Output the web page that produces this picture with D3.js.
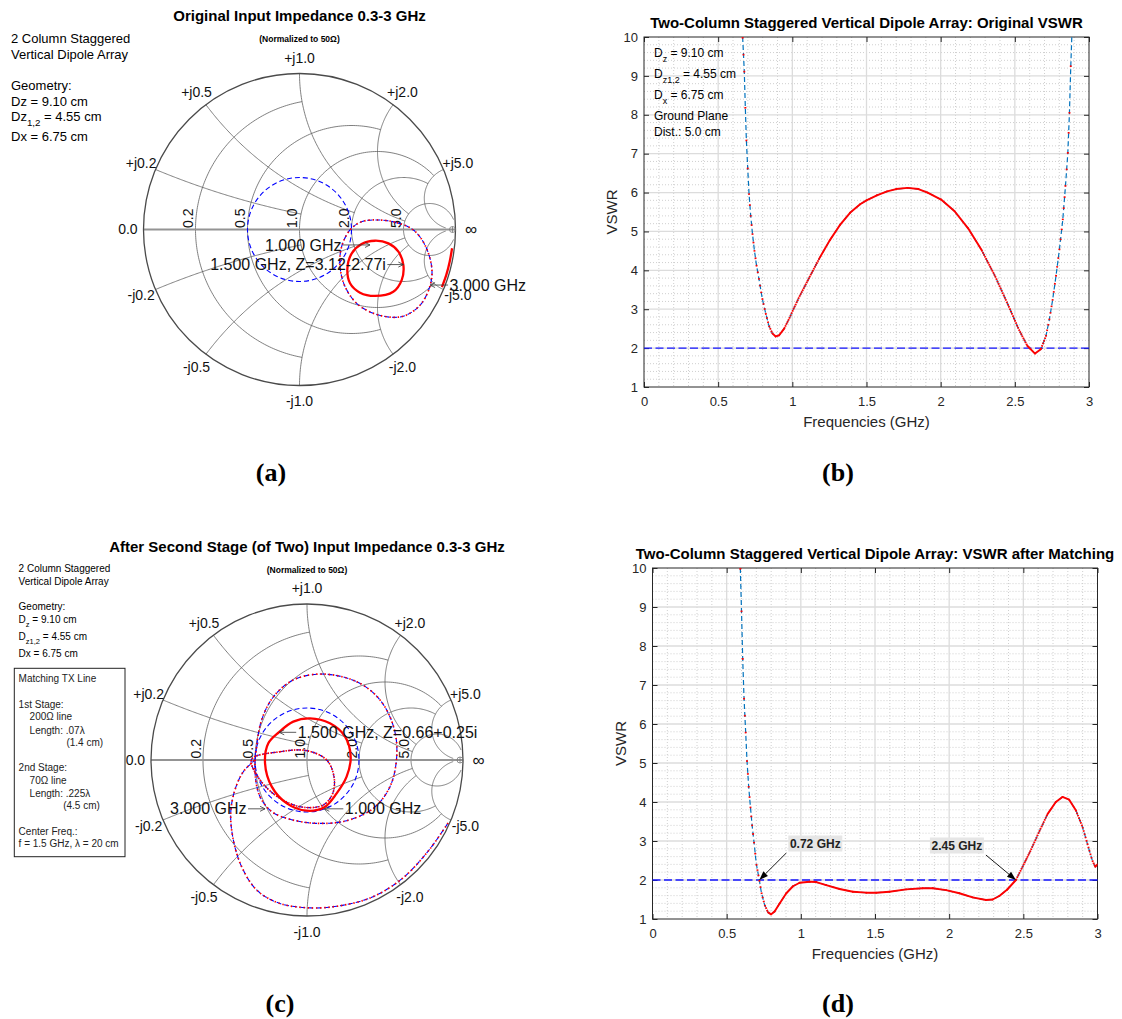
<!DOCTYPE html>
<html>
<head>
<script src="https://d3js.org/d3.v7.min.js"></script>
<style>
  body { margin: 0; background: #fff; }
  text { font-family: "Liberation Sans", Arial, Helvetica, sans-serif; }
  text.serif { font-family: "Liberation Serif", "Times New Roman", serif; }
</style>
</head>
<body>
<svg id="fig" width="1122" height="1019"></svg>
<script>
// ---------------- VSWR curves ----------------
const freqTicks = [0, 0.5, 1, 1.5, 2, 2.5, 3];
const vswrTicks = [1, 2, 3, 4, 5, 6, 7, 8, 9, 10];
const vswrLimit = 2;

const freqOrig = [0.665, 0.676, 0.683, 0.690, 0.699, 0.708, 0.719, 0.731, 0.744, 0.758,
  0.774, 0.797, 0.820, 0.842, 0.865, 0.888, 0.911, 0.945, 0.979, 1.000,
  1.047, 1.115, 1.184, 1.252, 1.320, 1.389, 1.457, 1.500, 1.570, 1.639,
  1.700, 1.776, 1.850, 1.912, 2.003, 2.094, 2.185, 2.276, 2.367, 2.458,
  2.527, 2.584, 2.636, 2.675, 2.709, 2.732, 2.754, 2.777, 2.800, 2.823,
  2.841, 2.857, 2.868, 2.877, 2.884];
const vswrOrig = [10.0, 9.13, 8.20, 7.36, 6.64, 5.98, 5.42, 4.95, 4.52, 4.14,
  3.80, 3.28, 2.90, 2.58, 2.38, 2.30, 2.33, 2.50, 2.76, 2.94,
  3.32, 3.82, 4.32, 4.77, 5.16, 5.48, 5.70, 5.80, 5.93, 6.03,
  6.09, 6.12, 6.09, 6.00, 5.82, 5.52, 5.08, 4.52, 3.85, 3.08,
  2.48, 2.06, 1.86, 1.97, 2.30, 2.72, 3.22, 3.84, 4.52, 5.29,
  6.15, 7.00, 8.03, 9.23, 10.0];

const freqMatched = [0.592, 0.600, 0.608, 0.617, 0.628, 0.637, 0.648, 0.660, 0.671, 0.684,
  0.700, 0.720, 0.734, 0.756, 0.779, 0.800, 0.823, 0.857, 0.902, 0.947,
  0.992, 1.059, 1.104, 1.171, 1.261, 1.351, 1.440, 1.508, 1.597, 1.710,
  1.822, 1.889, 1.979, 2.069, 2.158, 2.248, 2.293, 2.338, 2.390, 2.450,
  2.500, 2.551, 2.607, 2.663, 2.719, 2.764, 2.809, 2.854, 2.899, 2.944,
  2.965, 2.985, 3.000];
const vswrMatched = [10.0, 8.91, 7.69, 6.67, 5.80, 5.07, 4.41, 3.88, 3.42, 2.98,
  2.41, 2.00, 1.68, 1.36, 1.17, 1.12, 1.19, 1.40, 1.66, 1.84,
  1.93, 1.955, 1.947, 1.87, 1.77, 1.70, 1.675, 1.674, 1.70, 1.76,
  1.79, 1.79, 1.74, 1.66, 1.555, 1.486, 1.50, 1.59, 1.75, 2.00,
  2.38, 2.77, 3.24, 3.69, 4.00, 4.13, 4.06, 3.79, 3.36, 2.77,
  2.50, 2.34, 2.40];
const crossFreqs = [0.72, 2.45];

// ---------------- Smith chart grid ----------------
const gridRes = [0.2, 0.5, 1, 2, 5];
const gridResMaxX = [1, 2, 5, 5, 30];
const gridReact = [0.2, 0.5, 1, 2, 5];
const gridReactMaxR = [1, 2, 5, 5, 30];

// ---------------- impedance loci (reflection coefficient re, im) ----------------
const origLoop = [[0.505, 0.061], [0.623, 0.044], [0.730, -0.003], [0.804, -0.099], [0.847, -0.238],
  [0.841, -0.345], [0.783, -0.473], [0.687, -0.548], [0.601, -0.563], [0.473, -0.537],
  [0.366, -0.473], [0.292, -0.366], [0.260, -0.238], [0.270, -0.110], [0.324, -0.003], [0.398, 0.050]];
const origCircle = [[0.484, -0.072], [0.570, -0.089], [0.634, -0.142], [0.666, -0.228], [0.655, -0.324],
  [0.601, -0.399], [0.484, -0.426], [0.388, -0.405], [0.324, -0.345], [0.307, -0.249],
  [0.335, -0.153], [0.398, -0.093]];
const origEdge = [[0.978, -0.120], [0.963, -0.205], [0.942, -0.288], [0.913, -0.369]];
const origNotes = [
  { f: 1.0, g: [0.452, -0.099] },
  { f: 1.5, z: [3.12, -2.77] },
  { f: 3.0, g: [0.837, -0.356] }
];

const matchedLow = [[0.904, -0.404], [0.780, -0.580], [0.613, -0.758], [0.415, -0.880], [0.207, -0.935],
  [0.019, -0.948], [-0.182, -0.917], [-0.323, -0.833], [-0.419, -0.684], [-0.472, -0.513],
  [-0.489, -0.342], [-0.462, -0.192], [-0.408, -0.075], [-0.333, 0.0]];
const matchedInner = [[-0.355, 0.004], [-0.173, 0.053], [-0.002, 0.060], [0.126, 0.0], [0.173, -0.107],
  [0.165, -0.214], [0.105, -0.288], [-0.024, -0.303], [-0.173, -0.246], [-0.301, -0.128]];
const matchedCircle = [[0.019, 0.267], [0.147, 0.235], [0.244, 0.150], [0.280, 0.021], [0.254, -0.107],
  [0.190, -0.214], [0.111, -0.303], [-0.002, -0.325], [-0.130, -0.278], [-0.226, -0.171],
  [-0.269, -0.021], [-0.248, 0.107], [-0.179, 0.179], [-0.088, 0.246]];
const matchedHigh = [[0.094, 0.551], [0.318, 0.502], [0.468, 0.385], [0.558, 0.203], [0.575, 0.021],
  [0.532, -0.171], [0.425, -0.310], [0.254, -0.389], [0.062, -0.406], [-0.109, -0.380],
  [-0.226, -0.331], [-0.301, -0.235], [-0.333, -0.085], [-0.323, 0.085], [-0.291, 0.256],
  [-0.216, 0.404], [-0.088, 0.513]];
const matchedNotes = [
  { f: 1.5, z: [0.66, 0.25] },
  { f: 3.0, g: [-0.269, -0.313] },
  { f: 1.0, g: [0.111, -0.313] }
];

const svg = d3.select('#fig');
const sampleStep = 2.7 / 400;   // frequency step of the sweep, GHz
const dotLen = 1.6;

// z = r + jx  ->  reflection coefficient
function gamma(z) {
  const r = z[0], x = z[1];
  const d = (r + 1) * (r + 1) + x * x;
  return [(r * r + x * x - 1) / d, 2 * x / d];
}

function label(g, x, y, str, size, extra) {
  const t = g.append('text').attr('x', x).attr('y', y).attr('font-size', size).text(str);
  if (extra) Object.entries(extra).forEach(([k, v]) => t.attr(k, v));
  return t;
}

// text with subscripts: parts = [[string, isSub], ...]
function subLabel(g, x, y, parts, size) {
  const t = g.append('text').attr('x', x).attr('y', y).attr('font-size', size);
  let down = false;
  parts.forEach(([s, sub]) => {
    const ts = t.append('tspan').text(s);
    if (sub) ts.attr('font-size', size * 0.75);
    if (sub && !down) { ts.attr('dy', size * 0.38); down = true; }
    if (!sub && down) { ts.attr('dy', -size * 0.38); down = false; }
  });
  return t;
}

// ---------------- VSWR panel ----------------
function vswrPanel(o) {
  const x = d3.scaleLinear().domain([0, 3]).range([o.left, o.right]);
  const y = d3.scaleLinear().domain([1, 10]).range([o.bottom, o.top]);
  const g = svg.append('g');

  const onStep = (v, s) => Math.abs(v / s - Math.round(v / s)) < 1e-6;
  const minorX = d3.range(1, 30).map(k => k / 10).filter(v => !onStep(v, 0.5));
  const minorY = d3.range(6, 50).map(k => k / 5).filter(v => !onStep(v, 1));

  const grid = g.append('g').attr('fill', 'none');
  grid.selectAll('line.mx').data(minorX).join('line').attr('class', 'mx')
    .attr('x1', d => x(d)).attr('x2', d => x(d)).attr('y1', o.top).attr('y2', o.bottom);
  grid.selectAll('line.my').data(minorY).join('line').attr('class', 'my')
    .attr('y1', d => y(d)).attr('y2', d => y(d)).attr('x1', o.left).attr('x2', o.right);
  grid.selectAll('line.mx, line.my')
    .attr('stroke', '#c4c4c4').attr('stroke-width', 0.8).attr('stroke-dasharray', '1,2');
  grid.selectAll('line.gx').data(freqTicks.slice(1, -1)).join('line').attr('class', 'gx')
    .attr('x1', d => x(d)).attr('x2', d => x(d)).attr('y1', o.top).attr('y2', o.bottom);
  grid.selectAll('line.gy').data(vswrTicks.slice(1, -1)).join('line').attr('class', 'gy')
    .attr('y1', d => y(d)).attr('y2', d => y(d)).attr('x1', o.left).attr('x2', o.right);
  grid.selectAll('line.gx, line.gy').attr('stroke', '#dcdcdc').attr('stroke-width', 1.3);

  const fmt = d3.format('~g');
  const axes = [
    [d3.axisBottom(x).tickFormat(fmt).tickPadding(10), `translate(0,${o.bottom})`],
    [d3.axisTop(x).tickFormat(''), `translate(0,${o.top})`],
    [d3.axisLeft(y).tickFormat(fmt).tickPadding(6), `translate(${o.left},0)`],
    [d3.axisRight(y).tickFormat(''), `translate(${o.right},0)`]
  ];
  axes.forEach(([ax, tr], i) => {
    ax.tickValues(i < 2 ? freqTicks : vswrTicks).tickSizeInner(-5).tickSizeOuter(0);
    const a = g.append('g').attr('transform', tr).call(ax);
    a.select('.domain').remove();
    a.selectAll('line').attr('stroke', '#262626').attr('stroke-width', 1);
    a.selectAll('text').attr('font-size', 13).attr('fill', '#262626');
  });
  g.append('rect').attr('x', o.left).attr('y', o.top)
    .attr('width', o.right - o.left).attr('height', o.bottom - o.top)
    .attr('fill', 'none').attr('stroke', '#262626').attr('stroke-width', 1);

  // limit line
  g.append('line').attr('x1', x(0)).attr('x2', x(3)).attr('y1', y(vswrLimit)).attr('y2', y(vswrLimit))
    .attr('stroke', '#1414ff').attr('stroke-width', 1.3).attr('stroke-dasharray', '8,3.5');

  // curve: dashed trace plus red sample points
  svg.append('clipPath').attr('id', o.id).append('rect')
    .attr('x', o.left).attr('y', o.top - 1).attr('width', o.right - o.left).attr('height', o.bottom - o.top + 1);
  const cg = g.append('g').attr('clip-path', `url(#${o.id})`);
  const px = o.freqs.map(f => x(f)), py = o.vals.map(v => y(v));
  cg.append('path').attr('d', d3.line()(px.map((v, i) => [v, py[i]])))
    .attr('fill', 'none').attr('stroke', '#0072bd').attr('stroke-width', 1.2).attr('stroke-dasharray', '5,3');
  for (let i = 0; i < px.length - 1; i++) {
    const L = Math.hypot(px[i + 1] - px[i], py[i + 1] - py[i]);
    const n = Math.max(1, Math.round((o.freqs[i + 1] - o.freqs[i]) / sampleStep));
    const gap = L / n - dotLen;
    const seg = cg.append('line').attr('x1', px[i]).attr('y1', py[i]).attr('x2', px[i + 1]).attr('y2', py[i + 1])
      .attr('stroke', '#ff0000').attr('stroke-width', 1.9);
    if (gap > 0.5) seg.attr('stroke-dasharray', `${dotLen},${gap.toFixed(2)}`);
    else seg.attr('stroke-linecap', 'round');
  }

  // titles
  label(g, (o.left + o.right) / 2, o.top - 9, o.title, 15, { 'font-weight': 'bold', 'text-anchor': 'middle' });
  label(g, (o.left + o.right) / 2, o.bottom + 40, 'Frequencies (GHz)', 15, { 'text-anchor': 'middle', fill: '#262626' });
  label(g, 0, 0, 'VSWR', 15, {
    'text-anchor': 'middle', fill: '#262626',
    transform: `translate(${o.left - 27},${(o.top + o.bottom) / 2}) rotate(-90)`
  });
  return { g, x, y };
}

// ---------------- Smith chart panel ----------------
function smithPanel(o) {
  const sx = d3.scaleLinear().domain([-1, 1]).range([o.cx - o.R, o.cx + o.R]);
  const sy = d3.scaleLinear().domain([-1, 1]).range([o.cy + o.R, o.cy - o.R]);
  const lin = d3.line().x(d => sx(d[0])).y(d => sy(d[1]));
  const loopLine = d3.line().x(d => sx(d[0])).y(d => sy(d[1])).curve(d3.curveCatmullRomClosed.alpha(0.5));
  const openLine = d3.line().x(d => sx(d[0])).y(d => sy(d[1])).curve(d3.curveCatmullRom.alpha(0.5));
  const g = svg.append('g');
  const gridG = g.append('g').attr('fill', 'none').attr('stroke', '#5f5f5f').attr('stroke-width', 0.8);

  // constant resistance circles, cut at |x| = limit
  gridRes.forEach((r, i) => {
    const c = r / (1 + r), rho = 1 / (1 + r);
    const e = gamma([r, gridResMaxX[i]]);
    const a0 = Math.atan2(e[1], e[0] - c);
    const pts = d3.range(0, 181).map(k => {
      const a = a0 + (2 * Math.PI - 2 * a0) * k / 180;
      return [c + rho * Math.cos(a), rho * Math.sin(a)];
    });
    gridG.append('path').attr('d', lin(pts));
  });
  // constant reactance arcs, cut at r = limit
  gridReact.forEach((xv, i) => {
    [1, -1].forEach(s => {
      const yc = s / xv, rho = 1 / xv;
      const p0 = gamma([0, s * xv]), p1 = gamma([gridReactMaxR[i], s * xv]);
      const a0 = Math.atan2(p0[1] - yc, p0[0] - 1);
      let da = Math.atan2(p1[1] - yc, p1[0] - 1) - a0;
      if (da > Math.PI) da -= 2 * Math.PI;
      if (da < -Math.PI) da += 2 * Math.PI;
      const pts = d3.range(0, 121).map(k => {
        const a = a0 + da * k / 120;
        return [1 + rho * Math.cos(a), yc + rho * Math.sin(a)];
      });
      gridG.append('path').attr('d', lin(pts));
    });
  });
  g.append('line').attr('x1', sx(-1)).attr('x2', sx(1)).attr('y1', sy(0)).attr('y2', sy(0))
    .attr('stroke', '#949494').attr('stroke-width', 2);
  g.append('circle').attr('cx', sx(0)).attr('cy', sy(0)).attr('r', sx(1) - sx(0))
    .attr('fill', 'none').attr('stroke', '#4a4a4a').attr('stroke-width', 1.3);
  const mk = g.append('g').attr('fill', 'none').attr('stroke', '#777').attr('stroke-width', 0.8);
  mk.append('circle').attr('cx', sx(1) - 3).attr('cy', sy(0)).attr('r', 3);
  mk.append('line').attr('x1', sx(1) - 3).attr('x2', sx(1) - 3).attr('y1', sy(0) - 3).attr('y2', sy(0) + 3);

  // labels
  const lg = g.append('g').attr('fill', '#111');
  gridReact.forEach(xv => [1, -1].forEach(s => {
    const p = gamma([0, s * xv]);
    label(lg, sx(p[0] * 1.1), sy(p[1] * 1.1), (s > 0 ? '+j' : '-j') + xv.toFixed(1), 14,
      { 'text-anchor': 'middle', dy: '0.35em' });
  }));
  label(lg, sx(-1.1), sy(0), '0.0', 14, { 'text-anchor': 'middle', dy: '0.35em' });
  label(lg, sx(1.1), sy(0), '\u221e', 17, { 'text-anchor': 'middle', dy: '0.35em' });
  gridRes.forEach(r => {
    const p = gamma([r, 0]);
    label(lg, 0, 0, r.toFixed(1), 14, { transform: `translate(${sx(p[0]) - 2.5},${sy(0) - 1.5}) rotate(-90)` });
  });

  // VSWR = 2 circle
  const gm = (vswrLimit - 1) / (vswrLimit + 1);
  g.append('circle').attr('cx', sx(0)).attr('cy', sy(0)).attr('r', sx(gm) - sx(0))
    .attr('fill', 'none').attr('stroke', '#0000ff').attr('stroke-width', 1.1).attr('stroke-dasharray', '5,3');

  // loci
  o.traces.forEach(t => {
    const d = (t.closed ? loopLine : openLine)(t.pts);
    if (t.style === 'solid') {
      g.append('path').attr('d', d).attr('fill', 'none').attr('stroke', '#ff0000').attr('stroke-width', 2.3);
    } else {
      g.append('path').attr('d', d).attr('fill', 'none').attr('stroke', '#0000ff')
        .attr('stroke-width', 1.1).attr('stroke-dasharray', '5,3');
      g.append('path').attr('d', d).attr('fill', 'none').attr('stroke', '#ff0000')
        .attr('stroke-width', 1.7).attr('stroke-dasharray', t.style === 'dense' ? '1.4,1.4' : '1.4,2.8');
    }
  });

  // frequency annotations
  o.notes.forEach((n, i) => {
    const gp = n.z ? gamma(n.z) : n.g;
    const tx = sx(gp[0]), ty = sy(gp[1]);
    const lay = o.noteLayout[i];
    let txt = n.f.toFixed(3) + ' GHz';
    if (n.z) txt += `, Z=${n.z[0]}${n.z[1] < 0 ? '-' : '+'}${Math.abs(n.z[1])}i`;
    const dir = lay.dir === 'right' ? -1 : 1;
    const tail = tx + dir * lay.len;
    const ag = g.append('g').attr('stroke', '#333').attr('stroke-width', 0.8).attr('fill', 'none');
    ag.append('line').attr('x1', tail).attr('x2', tx).attr('y1', ty).attr('y2', ty);
    ag.append('path').attr('d', `M${tx + dir * 5},${ty - 2.5}L${tx},${ty}L${tx + dir * 5},${ty + 2.5}`);
    label(g, tail + dir * 1.5, ty, txt, 16, { dy: '0.35em', 'text-anchor': dir < 0 ? 'end' : 'start', fill: '#111' });
  });

  label(g, o.cx, o.titleY, o.title, 15, { 'font-weight': 'bold', 'text-anchor': 'middle' });
  label(g, o.cx, o.titleY + 21, '(Normalized to 50\u03a9)', 8.5, { 'font-weight': 'bold', 'text-anchor': 'middle' });
  return g;
}

// ---------------- (a) ----------------
const ga = smithPanel({
  cx: 299.5, cy: 229.5, R: 156, titleY: 21,
  title: 'Original Input Impedance 0.3-3 GHz',
  traces: [
    { pts: origLoop, closed: true, style: 'sparse' },
    { pts: origCircle, closed: true, style: 'solid' },
    { pts: origEdge, closed: false, style: 'solid' }
  ],
  notes: origNotes,
  noteLayout: [{ dir: 'right', len: 27 }, { dir: 'right', len: 16 }, { dir: 'left', len: 18 }]
});
label(ga, 11, 43, '2 Column Staggered', 13);
label(ga, 11, 59, 'Vertical Dipole Array', 13);
label(ga, 11, 90, 'Geometry:', 13);
label(ga, 11, 106, 'Dz = 9.10 cm', 13);
subLabel(ga, 11, 121, [['Dz', false], ['1,2', true], [' = 4.55 cm', false]], 13);
label(ga, 11, 141, 'Dx = 6.75 cm', 13);

// ---------------- (b) ----------------
const pb = vswrPanel({
  id: 'clip-b', left: 644, right: 1089, top: 37, bottom: 387,
  freqs: freqOrig, vals: vswrOrig,
  title: 'Two-Column Staggered Vertical Dipole Array: Original VSWR'
});
subLabel(pb.g, 654, 57, [['D', false], ['z', true], [' = 9.10 cm', false]], 12);
subLabel(pb.g, 654, 78, [['D', false], ['z1,2', true], [' = 4.55 cm', false]], 12);
subLabel(pb.g, 654, 99, [['D', false], ['x', true], [' = 6.75 cm', false]], 12);
label(pb.g, 654, 120, 'Ground Plane', 12);
label(pb.g, 654, 136, 'Dist.: 5.0 cm', 12);

// ---------------- (c) ----------------
const gc = smithPanel({
  cx: 307, cy: 760, R: 156, titleY: 552,
  title: 'After Second Stage (of Two) Input Impedance 0.3-3 GHz',
  traces: [
    { pts: matchedLow, closed: false, style: 'sparse' },
    { pts: matchedHigh, closed: true, style: 'sparse' },
    { pts: matchedInner, closed: true, style: 'dense' },
    { pts: matchedCircle, closed: true, style: 'solid' }
  ],
  notes: matchedNotes,
  noteLayout: [{ dir: 'left', len: 17 }, { dir: 'right', len: 17 }, { dir: 'left', len: 19 }]
});
const cTxt = [
  ['2 Column Staggered', 18.6, 572], ['Vertical Dipole Array', 18.6, 585], ['Geometry:', 18.6, 610]
];
cTxt.forEach(([s, x, y]) => label(gc, x, y, s, 10));
subLabel(gc, 18.6, 623, [['D', false], ['z', true], [' = 9.10 cm', false]], 10);
subLabel(gc, 18.6, 640, [['D', false], ['z1,2', true], ['  = 4.55 cm', false]], 10);
label(gc, 18.6, 657, 'Dx = 6.75 cm', 10);
gc.append('rect').attr('x', 14.3).attr('y', 668.3).attr('width', 110.7).attr('height', 188.4)
  .attr('fill', 'none').attr('stroke', '#222').attr('stroke-width', 1);
const boxTxt = [
  ['Matching TX Line', 18.6, 682], ['1st Stage:', 18.6, 708], ['200\u03a9 line', 29.6, 720],
  ['Length: .07\u03bb', 29.6, 733.5], ['(1.4 cm)', 66.4, 746], ['2nd Stage:', 18.6, 771],
  ['70\u03a9 line', 29.6, 784], ['Length: .225\u03bb', 29.6, 797], ['(4.5 cm)', 63.2, 809],
  ['Center Freq.:', 18.6, 835], ['f = 1.5 GHz, \u03bb = 20 cm', 18.6, 847]
];
boxTxt.forEach(([s, x, y]) => label(gc, x, y, s, 10, { fill: '#222' }));

// ---------------- (d) ----------------
const pd = vswrPanel({
  id: 'clip-d', left: 652.5, right: 1097.5, top: 568, bottom: 919,
  freqs: freqMatched, vals: vswrMatched,
  title: 'Two-Column Staggered Vertical Dipole Array: VSWR after Matching'
});
// crossing markers with text arrows
const crossLayout = [{ dx: 27, dy: -27 }, { dx: -30, dy: -25 }];
crossFreqs.forEach((f, i) => {
  const tx = pd.x(f), ty = pd.y(vswrLimit);
  const lay = crossLayout[i];
  const ex = tx + lay.dx, ey = ty + lay.dy;
  const ang = Math.atan2(ty - ey, tx - ex);
  const hl = 9, hw = 3.2;
  const bx = tx - hl * Math.cos(ang), by = ty - hl * Math.sin(ang);
  pd.g.append('line').attr('x1', ex).attr('y1', ey).attr('x2', bx).attr('y2', by)
    .attr('stroke', '#000').attr('stroke-width', 0.9);
  pd.g.append('path')
    .attr('d', `M${tx},${ty}L${bx - hw * Math.sin(ang)},${by + hw * Math.cos(ang)}L${bx + hw * Math.sin(ang)},${by - hw * Math.cos(ang)}Z`)
    .attr('fill', '#000');
  const txt = f.toFixed(2) + ' GHz';
  const cx = lay.dx > 0 ? ex + 29 : ex - 29;
  pd.g.append('rect').attr('x', cx - 27).attr('y', ey - 17.5).attr('width', 54).attr('height', 16)
    .attr('fill', '#e6e6e6');
  label(pd.g, cx, ey - 9.5, txt, 12, { 'font-weight': 'bold', 'text-anchor': 'middle', dy: '0.35em', fill: '#222' });
});

// panel letters
[['(a)', 271, 481], ['(b)', 838, 481], ['(c)', 280, 1012], ['(d)', 838, 1012]].forEach(([s, x, y]) =>
  label(svg, x, y, s, 26, { 'font-weight': 'bold', 'text-anchor': 'middle', class: 'serif' }));
</script>
</body>
</html>
